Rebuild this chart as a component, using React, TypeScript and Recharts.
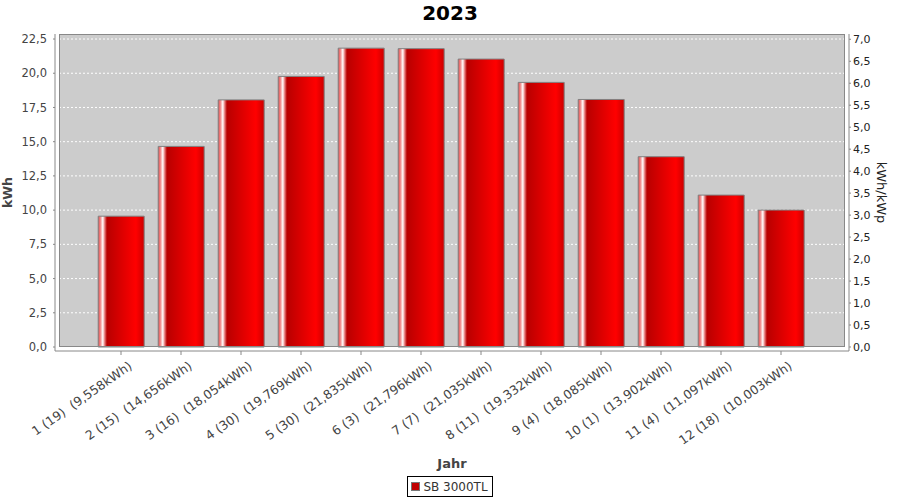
import React from 'react';
import { BarChart, Bar, XAxis, YAxis, CartesianGrid, Legend } from 'recharts';

const categories = [
  '1 (19)  (9,558kWh)',
  '2 (15)  (14,656kWh)',
  '3 (16)  (18,054kWh)',
  '4 (30)  (19,769kWh)',
  '5 (30)  (21,835kWh)',
  '6 (3)  (21,796kWh)',
  '7 (7)  (21,035kWh)',
  '8 (11)  (19,332kWh)',
  '9 (4)  (18,085kWh)',
  '10 (1)  (13,902kWh)',
  '11 (4)  (11,097kWh)',
  '12 (18)  (10,003kWh)',
];
const kwhValues = [9.558, 14.656, 18.054, 19.769, 21.835, 21.796, 21.035, 19.332, 18.085, 13.902, 11.097, 10.003];
const leftTicks = [0, 2.5, 5, 7.5, 10, 12.5, 15, 17.5, 20, 22.5];
const rightTicks = [0, 0.5, 1, 1.5, 2, 2.5, 3, 3.5, 4, 4.5, 5, 5.5, 6, 6.5, 7];
const seriesName = 'SB 3000TL';
const title = '2023';

const data = categories.map((c, i) => ({ name: c, value: kwhValues[i] }));

const FONT = '"DejaVu Sans", sans-serif';
const fmt = (v: number) => v.toFixed(1).replace('.', ',');

const XTick = (props: any) => {
  const { x, payload } = props;
  const axisY = 351;
  return (
    <g transform={`translate(${x},${axisY})`}>
      <text
        x={0}
        y={0}
        transform="translate(12,17) rotate(-35)"
        textAnchor="end"
        fill="#444"
        fontSize={12.5}
        fontFamily={FONT}
        xmlSpace="preserve"
        style={{ whiteSpace: 'pre' }}
      >
        {payload.value}
      </text>
    </g>
  );
};

const renderLegend = () => (
  <div
    style={{
      display: 'flex',
      justifyContent: 'center',
      height: 22,
    }}
  >
    <div
      style={{
        boxSizing: 'border-box',
        height: 21,
        border: '1px solid #000',
        display: 'flex',
        alignItems: 'center',
        padding: '0 4px 0 3px',
        fontFamily: FONT,
        fontSize: 12,
        color: '#333',
        background: '#fff',
      }}
    >
      <span
        style={{
          display: 'inline-block',
          width: 7,
          height: 7,
          background: '#c00000',
          border: '1px solid #777',
          marginRight: 3,
        }}
      />
      <span>{seriesName}</span>
    </div>
  </div>
);

export default function App() {
  return (
    <div style={{ position: 'absolute', left: 0, top: 0, width: 900, height: 500, background: '#fff' }}>
      <div
        style={{
          position: 'absolute',
          left: 59,
          top: 34,
          width: 786,
          height: 313,
          background: '#cccccc',
          zIndex: 0,
        }}
      />
      <div
        style={{
          position: 'absolute',
          left: 0,
          top: 3,
          width: 900,
          textAlign: 'center',
          fontFamily: FONT,
          fontWeight: 'bold',
          fontSize: 20,
          lineHeight: '20px',
          color: '#000',
          zIndex: 3,
        }}
      >
        {title}
      </div>
      <BarChart
        width={900}
        height={500}
        data={data}
        margin={{ top: 34, right: 0, bottom: 2, left: 0 }}
        barCategoryGap="12%"
        style={{ position: 'relative', zIndex: 1 }}
      >
        <defs>
          <linearGradient id="barGrad" x1="0" y1="0" x2="1" y2="0">
            <stop offset="0%" stopColor="#e04848" />
            <stop offset="5%" stopColor="#f09090" />
            <stop offset="10%" stopColor="#ffffff" />
            <stop offset="14%" stopColor="#e88080" />
            <stop offset="19%" stopColor="#b80000" />
            <stop offset="82%" stopColor="#ff0000" />
            <stop offset="100%" stopColor="#cc0000" />
          </linearGradient>
        </defs>
        <CartesianGrid
          yAxisId="left"
          vertical={false}
          stroke="#ffffff"
          strokeDasharray="2 2"
        />
        <XAxis
          dataKey="name"
          interval={0}
          height={125}
          tickSize={4}
          tickMargin={0}
          padding={{ left: 36, right: 38 }}
          axisLine={{ stroke: '#888' }}
          tickLine={{ stroke: '#888' }}
          tick={<XTick />}
          label={{
            value: 'Jahr',
            position: 'insideTop',
            offset: 108,
            style: { fontFamily: FONT, fontSize: 13, fontWeight: 'bold', fill: '#444' },
          }}
        />
        <YAxis
          yAxisId="left"
          orientation="left"
          width={55}
          domain={[-0.292, 22.867]}
          allowDataOverflow
          ticks={leftTicks}
          interval={0}
          tickFormatter={fmt}
          tickSize={2}
          tickMargin={6}
          axisLine={{ stroke: '#888' }}
          tickLine={{ stroke: '#888' }}
          tick={{ fontFamily: FONT, fontSize: 11.5, fill: '#444' }}
          label={{
            value: 'kWh',
            angle: -90,
            position: 'center',
            dx: -20,
            style: { fontFamily: FONT, fontSize: 12.5, fontWeight: 'bold', fill: '#444' },
          }}
        />
        <YAxis
          yAxisId="right"
          orientation="right"
          width={51}
          domain={[-0.091, 7.12]}
          allowDataOverflow
          ticks={rightTicks}
          interval={0}
          tickFormatter={fmt}
          tickSize={2}
          tickMargin={2}
          axisLine={{ stroke: '#888' }}
          tickLine={{ stroke: '#888' }}
          tick={{ fontFamily: FONT, fontSize: 11, fill: '#222' }}
          label={{
            value: 'kWh/kWp',
            angle: 90,
            position: 'center',
            dx: 7.5,
            style: { fontFamily: FONT, fontSize: 13, fill: '#222' },
          }}
        />
        <Legend verticalAlign="bottom" align="center" content={renderLegend} />
        <Bar
          yAxisId="left"
          dataKey="value"
          name={seriesName}
          fill="url(#barGrad)"
          stroke="#808080"
          strokeWidth={1}
          isAnimationActive={false}
        />
      </BarChart>
      <div
        style={{
          position: 'absolute',
          left: 59,
          top: 34,
          width: 786,
          height: 313,
          boxSizing: 'border-box',
          border: '1px solid #888',
          zIndex: 2,
          pointerEvents: 'none',
        }}
      />
    </div>
  );
}
